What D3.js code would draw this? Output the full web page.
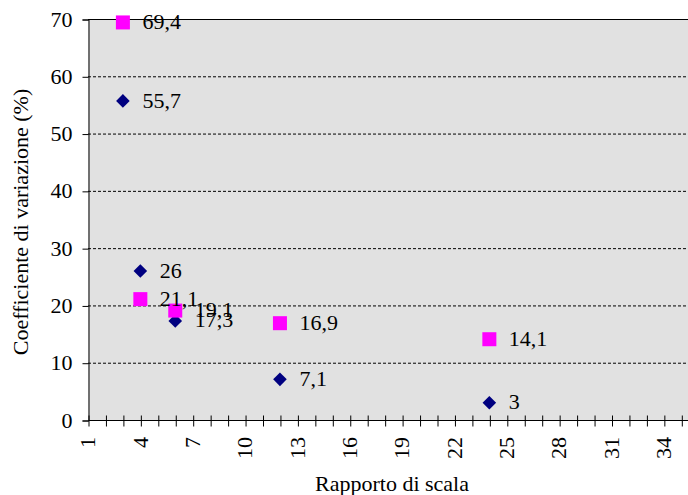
<!DOCTYPE html>
<html>
<head>
<meta charset="utf-8">
<script src="https://cdn.jsdelivr.net/npm/d3@7"></script>
<style>
  body { margin: 0; background: #fff; }
  svg text { font-family: "Liberation Serif", "Times New Roman", serif; fill: #000; }
</style>
</head>
<body>
<svg id="chart" width="688" height="495"></svg>
<script>
// scale ratio on x, coefficient of variation (%) on y
var ratios = [3, 4, 6, 12, 24];
var cvDiamond = [55.7, 26, 17.3, 7.1, 3];
var cvSquare = [69.4, 21.1, 19.1, 16.9, 14.1];
var yTicks = [0, 10, 20, 30, 40, 50, 60, 70];
var xTickLabels = [1, 4, 7, 10, 13, 16, 19, 22, 25, 28, 31, 34];

var svg = d3.select("#chart");
var plotLeft = 88, plotTop = 19, plotBottom = 420;
var step = 17.45;
var fs = "22px";

var x = d3.scaleLinear().domain([1, 36]).range([plotLeft, plotLeft + 35 * step]);
var y = d3.scaleLinear().domain([0, 70]).range([plotBottom, plotTop]);
var fmt = function(v){ return String(v).replace(".", ","); };

// plot area
svg.append("rect")
	.attr("x", plotLeft).attr("y", plotTop)
	.attr("width", 688 - plotLeft).attr("height", plotBottom - plotTop)
	.attr("fill", "#e1e1e1");

// gridlines
svg.selectAll("line.grid")
	.data(yTicks.filter(function(d){ return d > 0; }))
	.enter().append("line")
	.attr("class", "grid")
	.attr("x1", plotLeft).attr("x2", 688)
	.attr("y1", function(d){ return y(d) + 0.5; })
	.attr("y2", function(d){ return y(d) + 0.5; })
	.attr("stroke", "#000")
	.attr("stroke-width", 1)
	.attr("stroke-dasharray", function(d){ return d == 70 ? null : "3,2"; });

// y axis
var yAxis = svg.append("g")
	.attr("transform", "translate(" + (plotLeft + 0.5) + ",0.5)")
	.call(d3.axisLeft(y).tickValues(yTicks).tickSize(6).tickPadding(10).tickFormat(d3.format("d")));
yAxis.select(".domain").attr("stroke", "#000");
yAxis.selectAll("text").attr("font-size", fs).attr("dy", "0.3em");

// x axis
var xAxis = svg.append("g")
	.attr("transform", "translate(0.5," + (plotBottom + 0.5) + ")")
	.call(d3.axisBottom(x).tickValues(d3.range(1, 37)).tickSize(6).tickFormat(""));
xAxis.select(".domain").attr("d", "M" + plotLeft + ",0H700");
xAxis.selectAll(".tick line").attr("y1", -5).attr("y2", 6);

svg.append("g").selectAll("text")
	.data(xTickLabels)
	.enter().append("text")
	.attr("transform", function(d){ return "translate(" + x(d) + ",437) rotate(-90)"; })
	.attr("text-anchor", "end")
	.attr("dy", "0.33em")
	.attr("font-size", fs)
	.text(function(d){ return d; });

// axis titles
svg.append("text")
	.attr("x", 392).attr("y", 491)
	.attr("text-anchor", "middle")
	.attr("font-size", fs)
	.text("Rapporto di scala");

svg.append("text")
	.attr("transform", "translate(28,222) rotate(-90)")
	.attr("text-anchor", "middle")
	.attr("font-size", fs)
	.text("Coefficiente di variazione (%)");

// series
var diamonds = ratios.map(function(r, i){ return {x: r, y: cvDiamond[i]}; });
var squares = ratios.map(function(r, i){ return {x: r, y: cvSquare[i]}; });

svg.selectAll("path.dia")
	.data(diamonds)
	.enter().append("path")
	.attr("class", "dia")
	.attr("d", "M0,-6.8L6.8,0L0,6.8L-6.8,0Z")
	.attr("transform", function(d){ return "translate(" + x(d.x) + "," + y(d.y) + ")"; })
	.attr("fill", "#000080");

svg.selectAll("rect.sq")
	.data(squares)
	.enter().append("rect")
	.attr("class", "sq")
	.attr("x", function(d){ return x(d.x) - 7; })
	.attr("y", function(d){ return y(d.y) - 7; })
	.attr("width", 14).attr("height", 14)
	.attr("fill", "#ff00ff");

svg.selectAll("text.lab")
	.data(diamonds.concat(squares))
	.enter().append("text")
	.attr("class", "lab")
	.attr("x", function(d){ return x(d.x) + 19.5; })
	.attr("y", function(d){ return y(d.y); })
	.attr("dy", "0.3em")
	.attr("font-size", fs)
	.text(function(d){ return fmt(d.y); });
</script>
</body>
</html>
